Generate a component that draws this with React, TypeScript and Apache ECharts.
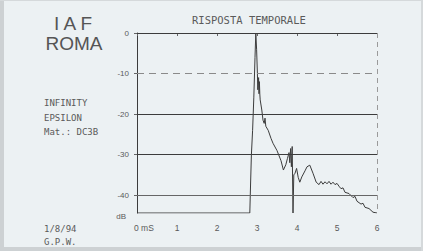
import React, { useEffect, useRef } from "react";
import * as echarts from "echarts";

// impulse response trace: time (ms) and level (dB)
const times = [
  0, 2.82, 2.84, 2.86, 2.89, 2.92, 2.95, 2.97, 2.99, 3.01, 3.02, 3.04, 3.05, 3.06, 3.07,
  3.08, 3.12, 3.15, 3.18, 3.2, 3.22, 3.28, 3.35, 3.4, 3.5, 3.6, 3.66, 3.72, 3.76, 3.8,
  3.82, 3.84, 3.86, 3.88, 3.9, 3.92, 3.95, 3.99, 4.03, 4.07, 4.12, 4.2, 4.25, 4.32,
  4.4, 4.48, 4.55, 4.6, 4.65, 4.7, 4.75, 4.8, 4.85, 4.9, 4.95, 5.0, 5.05, 5.1, 5.15,
  5.2, 5.3, 5.4, 5.45, 5.5, 5.6, 5.65, 5.7, 5.8, 5.9, 6.0,
];
const levels = [
  -44.4, -44.4, -37, -30, -24, -16, -6, 0, -4, -10, -14, -11, -15, -12, -15,
  -16.5, -19, -21.5, -22.3, -21, -23, -24, -26, -27.2, -29, -31.5, -33.8, -32.5, -31, -29.5,
  -32, -28.5, -33, -28, -44.4, -35, -34.6, -33.4, -35.6, -36.8, -35.5, -34, -33, -32.6,
  -34.6, -36.8, -37.4, -36.6, -37.3, -36.7, -37.2, -36.6, -37.3, -36.8, -37.4, -37.1, -37.8, -38.4, -38.2,
  -39.3, -39.6, -40.6, -40.3, -41.5, -42.2, -42, -43, -43.3, -44.2, -44.4,
];

const xTicks = [0, 1, 2, 3, 4, 5, 6];
const gridLevels = [-10, -20, -30, -40];
const yMinDb = -44.4;

const infoLines = ["INFINITY", "EPSILON", "Mat.: DC3B"];
const footLines = ["1/8/94", "G.P.W."];

export default function App() {
  const ref = useRef<HTMLDivElement>(null);
  useEffect(() => {
    if (!ref.current) return;
    const chart = echarts.init(ref.current, null, { renderer: "svg" });
    const ink = "#3c3c3c";
    const txt = "#5a5a5a";
    const mono = "DejaVu Sans Mono";
    const data = times.map((t, i) => [t, -levels[i]]);
    const gridStyles: Record<number, any> = {
      [-10]: { color: "#8a8a8a", type: [7, 5], width: 1 },
      [-20]: { color: ink, type: "solid", width: 1 },
      [-30]: { color: ink, type: "solid", width: 1 },
      [-40]: { color: "#666", type: "solid", width: 1 },
    };
    chart.setOption({
      animation: false,
      backgroundColor: "#ecf1f3",
      title: {
        text: "RISPOSTA TEMPORALE",
        left: 187,
        top: 9,
        textStyle: { fontSize: 10.5, fontFamily: mono, fontWeight: "normal", color: txt },
      },
      grid: { left: 137, top: 33, width: 240, height: 180 },
      xAxis: {
        type: "value",
        min: xTicks[0],
        max: xTicks[xTicks.length - 1],
        interval: 1,
        axisLine: { lineStyle: { color: ink, width: 1 } },
        axisTick: { show: true, length: 3, lineStyle: { color: "#666" } },
        splitLine: { show: false },
        axisLabel: {
          margin: 10,
          fontSize: 8.5,
          color: txt,
          fontFamily: "Liberation Sans",
          formatter: (v: number) => (v === 0 ? "" : String(v)),
        },
      },
      yAxis: {
        type: "value",
        inverse: true,
        min: 0,
        max: -yMinDb,
        interval: 10,
        axisLine: { show: true, lineStyle: { color: ink, width: 1 } },
        axisTick: { show: true, length: 3, lineStyle: { color: "#666" } },
        splitLine: { show: false },
        axisLabel: {
          margin: 8,
          fontSize: 8,
          color: txt,
          fontFamily: "Liberation Sans",
          showMaxLabel: false,
          formatter: (v: number) => (v % 10 !== 0 ? "" : v === 0 ? "0" : "-" + v),
        },
      },
      graphic: [
        { type: "rect", shape: { x: 0, y: 0, width: 4, height: 251 }, style: { fill: "#cdd1d3" } },
        { type: "rect", shape: { x: 0, y: 247, width: 423, height: 4 }, style: { fill: "#cdd1d3" } },
        { type: "rect", shape: { x: 0, y: 0, width: 423, height: 1 }, style: { fill: "#d5d9db" } },
        { type: "rect", shape: { x: 421, y: 0, width: 2, height: 251 }, style: { fill: "#d5d9db" } },
        {
          type: "text", x: 73, y: 23,
          style: { text: "I A F", fontSize: 19, fontFamily: "Liberation Sans", fill: "#555", align: "center", verticalAlign: "middle" },
        },
        {
          type: "text", x: 74, y: 43,
          style: { text: "ROMA", fontSize: 19, fontFamily: "Liberation Sans", fill: "#555", align: "center", verticalAlign: "middle" },
        },
        ...infoLines.map((s, i) => ({
          type: "text", x: 44, y: 103 + i * 14.5,
          style: { text: s, fontSize: 9, fontFamily: mono, fill: txt, verticalAlign: "middle" },
        })),
        ...footLines.map((s, i) => ({
          type: "text", x: 44, y: 229 + i * 13,
          style: { text: s, fontSize: 9, fontFamily: mono, fill: txt, verticalAlign: "middle" },
        })),
        {
          type: "text", x: 134, y: 228,
          style: { text: "0 mS", fontSize: 8.5, fontFamily: "Liberation Sans", fill: txt, verticalAlign: "middle" },
        },
        {
          type: "text", x: 126, y: 216,
          style: { text: "dB", fontSize: 8, fontFamily: "Liberation Sans", fill: txt, align: "right", verticalAlign: "middle" },
        },
      ],
      series: [
        {
          type: "line",
          data,
          showSymbol: false,
          lineStyle: { color: ink, width: 1 },
          markLine: {
            silent: true,
            symbol: "none",
            label: { show: false },
            data: [
              { yAxis: 0, lineStyle: { color: ink, type: "solid", width: 1 } },
              { xAxis: 6, lineStyle: { color: "#9a9a9a", type: [5, 4], width: 1 } },
              ...gridLevels.map((g) => ({ yAxis: -g, lineStyle: gridStyles[g] })),
            ],
          },
        },
      ],
    });
    return () => chart.dispose();
  }, []);
  return <div ref={ref} style={{ position: "fixed", left: 0, top: 0, width: 423, height: 251 }} />;
}
